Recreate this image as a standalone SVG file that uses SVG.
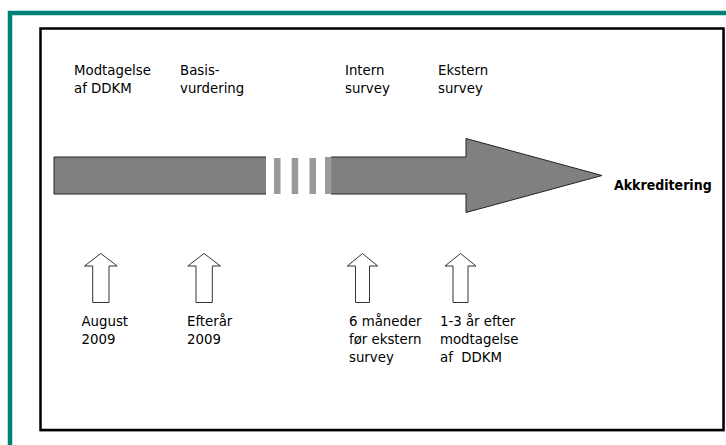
<svg xmlns="http://www.w3.org/2000/svg" width="726" height="445" viewBox="0 0 726 445">
<style>
.t{font-family:"DejaVu Sans Condensed","DejaVu Sans","Liberation Sans",sans-serif;font-stretch:condensed;font-size:14.8px;fill:#000}
.b{font-family:"DejaVu Sans Condensed","DejaVu Sans","Liberation Sans",sans-serif;font-stretch:condensed;font-size:14px;font-weight:bold;fill:#000}
.up{fill:#fff;stroke:#333;stroke-width:1}
.dash{fill:#999}
</style>
<rect x="0" y="0" width="726" height="445" fill="#fff"/>
<path d="M10 450 V13 H730" fill="none" stroke="#008075" stroke-width="4.5"/>
<rect x="41" y="29.5" width="683" height="401.5" fill="none" stroke="#b0b0b0" stroke-width="1.5"/>
<rect x="40.5" y="28.5" width="683" height="401.5" fill="#fff" stroke="#000" stroke-width="2.5"/>

<g id="timeline">
<path d="M266 157 H54 V194 H266 Z" fill="#808080"/>
<path d="M266 157 H54 V194 H266" fill="none" stroke="#222" stroke-width="1"/>
<rect class="dash" x="274" y="158" width="6.5" height="36"/>
<rect class="dash" x="291.7" y="158" width="6.5" height="36"/>
<rect class="dash" x="309.5" y="158" width="6.5" height="36"/>
<path d="M325 157 H466 V138.5 L602 175.5 L466 212.5 V194 H325 Z" fill="#808080"/>
<path d="M331 157 H466 V138.5 L602 175.5 L466 212.5 V194 H331" fill="none" stroke="#222" stroke-width="1"/>
<rect x="325" y="157" width="6.5" height="37" fill="#9a9a9a"/>
</g>

<g id="label-modtagelse">
<text class="t" x="74" y="75">Modtagelse</text>
<text class="t" x="74" y="93">af DDKM</text>
</g>
<g id="label-basis">
<text class="t" x="180" y="75">Basis-</text>
<text class="t" x="180" y="93">vurdering</text>
</g>
<g id="label-intern">
<text class="t" x="345" y="75">Intern</text>
<text class="t" x="345" y="93">survey</text>
</g>
<g id="label-ekstern">
<text class="t" x="438" y="75">Ekstern</text>
<text class="t" x="438" y="93">survey</text>
</g>
<g id="label-akkreditering">
<text class="b" x="614" y="190">Akkreditering</text>
</g>

<g id="arrow-august">
<path class="up" d="M92.7 302.5 V266 H84.5 L100.8 253.5 L117.2 266 H109 V302.5 Z"/>
<text class="t" x="81.5" y="326">August</text>
<text class="t" x="81.5" y="344">2009</text>
</g>
<g id="arrow-efteraar">
<path class="up" d="M196 302.5 V266 H187.8 L204 253.5 L220.5 266 H212.3 V302.5 Z"/>
<text class="t" x="187" y="326">Efterår</text>
<text class="t" x="187" y="344">2009</text>
</g>
<g id="arrow-6mdr">
<path class="up" d="M355.5 302.5 V266 H347.3 L362.5 253.5 L377.7 266 H369.5 V302.5 Z"/>
<text class="t" x="349" y="326">6 måneder</text>
<text class="t" x="349" y="344">før ekstern</text>
<text class="t" x="349" y="362">survey</text>
</g>
<g id="arrow-1-3aar">
<path class="up" d="M453 302.5 V266 H445 L460.5 253.5 L476 266 H468 V302.5 Z"/>
<text class="t" x="440" y="326">1-3 år efter</text>
<text class="t" x="440" y="344">modtagelse</text>
<text class="t" x="440" y="362" xml:space="preserve">af  DDKM</text>
</g>
</svg>
